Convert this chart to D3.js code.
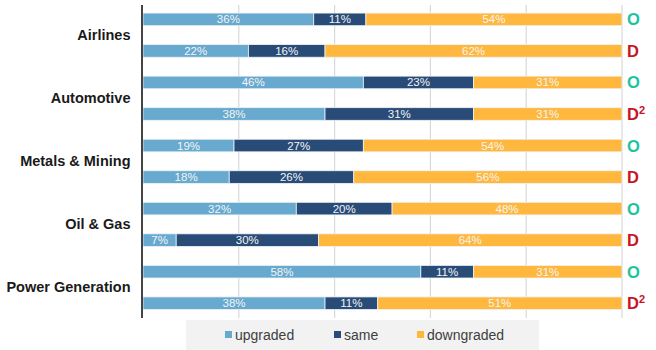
<!DOCTYPE html>
<html><head><meta charset="utf-8">
<script src="https://cdn.jsdelivr.net/npm/d3@7"></script>
<style>body{margin:0;background:#fff;}svg{display:block;font-family:Arial,"Liberation Sans",sans-serif;}</style>
</head><body><svg id="c" width="656" height="350"></svg>
<script>
const categories = ["Airlines","Automotive","Metals & Mining","Oil & Gas","Power Generation"];
const rowKinds = ["O","D","O","D2","O","D","O","D","O","D2"];
const upgraded   = [36,22,46,38,19,18,32,7,58,38];
const same       = [11,16,23,31,27,26,20,30,11,11];
const downgraded = [54,62,31,31,54,56,48,64,31,51];
const seriesNames = ["upgraded","same","downgraded"];
const xTicks = [0,0.2,0.4,0.6,0.8,1];

const colors = {upgraded:"#67A9CF", same:"#284C77", downgraded:"#FFB83D"};
const rows = rowKinds.map((k,i)=>({i, kind:k, upgraded:upgraded[i], same:same[i], downgraded:downgraded[i]}));

const svg = d3.select("#c");
const x = d3.scaleLinear().domain([0,1]).range([143,622]);
const y = d3.scaleBand().domain(d3.range(rows.length)).range([3.6,319]).paddingInner(0.6).paddingOuter(0.3);

// gridlines
svg.append("g").selectAll("line").data(xTicks.slice(1)).join("line")
  .attr("x1",d=>x(d)).attr("x2",d=>x(d)).attr("y1",5).attr("y2",318)
  .attr("stroke","#d9d9d9").attr("stroke-width",1.2);

const stack = d3.stack().keys(seriesNames).offset(d3.stackOffsetExpand);
const stacked = stack(rows);

const g = svg.append("g");
stacked.forEach(s=>{
  g.selectAll(null).data(s).join("rect")
    .attr("x",d=>x(d[0])).attr("width",d=>x(d[1])-x(d[0]))
    .attr("y",(d,j)=>y(j)).attr("height",y.bandwidth())
    .attr("fill",colors[s.key]).attr("stroke","#eef3f7").attr("stroke-width",0.8);
  g.selectAll(null).data(s).join("text")
    .attr("x",d=>(x(d[0])+x(d[1]))/2).attr("y",(d,j)=>y(j)+y.bandwidth()/2+4)
    .attr("text-anchor","middle").attr("font-size",11.5).attr("fill","#f4f4f4")
    .text(d=>d.data[s.key]+"%");
});

// axis line
svg.append("line").attr("x1",142).attr("x2",142).attr("y1",5).attr("y2",318)
  .attr("stroke","#444").attr("stroke-width",2);

// category labels
svg.append("g").selectAll("text").data(categories).join("text")
  .attr("x",130.5).attr("text-anchor","end")
  .attr("y",(d,i)=>(y(2*i)+y(2*i+1)+y.bandwidth())/2+5)
  .attr("font-size",14.5).attr("font-weight","bold").attr("fill","#1a1a1a")
  .text(d=>d);

// right markers
const mk = svg.append("g").selectAll("text").data(rows).join("text")
  .attr("x",627).attr("y",d=>y(d.i)+y.bandwidth()/2+6)
  .attr("font-size",16.5).attr("font-weight","bold")
  .attr("fill",d=>d.kind==="O"?"#1DC29E":"#C8141E");
mk.append("tspan").text(d=>d.kind[0]);
mk.filter(d=>d.kind==="D2").append("tspan").attr("dy",-6).attr("font-size",11).text("2");

// legend
svg.append("rect").attr("x",186).attr("y",320).attr("width",353).attr("height",30).attr("fill","#f2f2f2");
const lx = [225,334,417];
const lg = svg.append("g").selectAll("g").data(seriesNames).join("g")
  .attr("transform",(d,i)=>`translate(${lx[i]},335)`);
lg.append("rect").attr("x",0).attr("y",-4).attr("width",7).attr("height",7).attr("fill",d=>colors[d]);
lg.append("text").attr("x",10).attr("y",4.5).attr("font-size",14).attr("fill","#404040").text(d=>d);
</script></body></html>
